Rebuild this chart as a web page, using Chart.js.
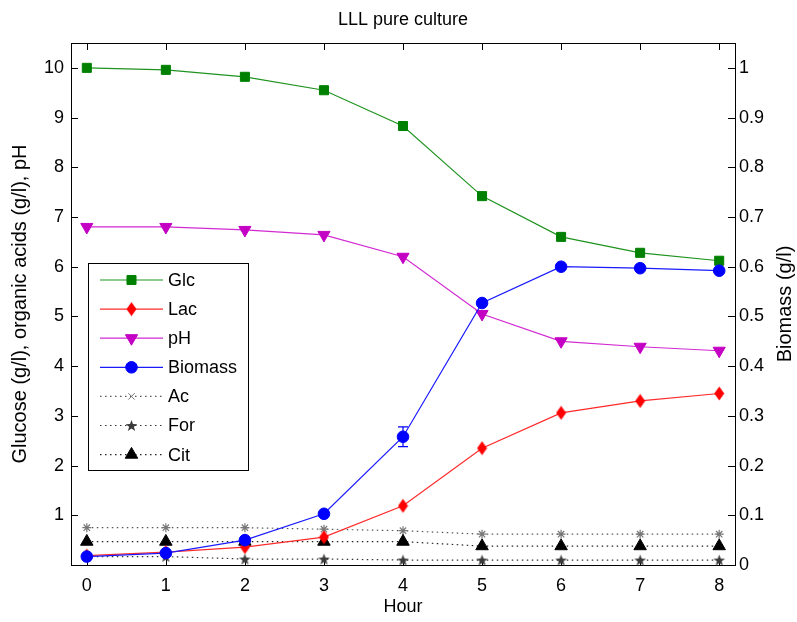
<!DOCTYPE html>
<html>
<head>
<meta charset="utf-8">
<title>LLL pure culture</title>
<script src="https://cdn.jsdelivr.net/npm/chart.js@4/dist/chart.umd.min.js"></script>
<style>
  html, body { margin: 0; padding: 0; background: #fff; }
  #c { display: block; }
</style>
</head>
<body>
<canvas id="c" width="797" height="622"></canvas>
<script>
// Sampling times (h)
const hours = [0, 1, 2, 3, 4, 5, 6, 7, 8];

// Left axis series: glucose, organic acids (g/l) and pH
const glc     = [10.0, 9.96, 9.82, 9.55, 8.83, 7.42, 6.60, 6.28, 6.12];
const lac     = [0.19, 0.26, 0.36, 0.56, 1.19, 2.35, 3.06, 3.30, 3.45];
const ph      = [6.80, 6.80, 6.74, 6.64, 6.20, 5.05, 4.50, 4.39, 4.31];
const ac      = [0.75, 0.75, 0.75, 0.72, 0.69, 0.62, 0.62, 0.62, 0.62];
const forAcid = [0.17, 0.17, 0.12, 0.12, 0.10, 0.10, 0.10, 0.10, 0.10];
const cit     = [0.47, 0.47, 0.47, 0.47, 0.47, 0.38, 0.38, 0.38, 0.38];

// Right axis series: biomass (g/l) with its standard deviation
const biomass    = [0.017, 0.024, 0.050, 0.103, 0.258, 0.527, 0.600, 0.597, 0.592];
const biomassErr = [0, 0, 0, 0, 0.020, 0, 0, 0, 0];

// Tick labels
const hourTicks  = [0, 1, 2, 3, 4, 5, 6, 7, 8];
const leftTicks  = [1, 2, 3, 4, 5, 6, 7, 8, 9, 10];
const rightTicks = [0, 0.1, 0.2, 0.3, 0.4, 0.5, 0.6, 0.7, 0.8, 0.9, 1];

const FONT = "'Liberation Sans', Arial, Helvetica, sans-serif";
const FS = 18;
const FS_AXIS = 20;

// ---- custom marker glyphs ----
function makeMarker(w, h, draw) {
  const cv = document.createElement('canvas');
  cv.width = w; cv.height = h;
  const g = cv.getContext('2d');
  draw(g, w, h);
  return cv;
}
const diamondMark = makeMarker(11, 15, (g, w, h) => {
  g.fillStyle = '#ff0000';
  g.beginPath();
  g.moveTo(w / 2, 0.5); g.lineTo(w - 0.5, h / 2); g.lineTo(w / 2, h - 0.5); g.lineTo(0.5, h / 2);
  g.closePath(); g.fill();
});
const pentagramMark = makeMarker(13, 13, (g, w, h) => {
  g.fillStyle = '#3a3a3a';
  g.beginPath();
  const cx = w / 2, cy = h / 2 + 0.6, R = 6.2, r = 2.5;
  for (let i = 0; i < 10; i++) {
    const a = -Math.PI / 2 + i * Math.PI / 5;
    const rr = i % 2 ? r : R;
    const px = cx + rr * Math.cos(a), py = cy + rr * Math.sin(a);
    i ? g.lineTo(px, py) : g.moveTo(px, py);
  }
  g.closePath(); g.fill();
});

const pts = arr => hours.map((h, i) => ({ x: h, y: arr[i] }));

const seriesStyle = [
  { label: 'Glc', data: glc, axis: 'y', line: '#1f931f', fill: '#008000', style: 'rect', radius: 6.4, rot: 0, dash: [], order: 3 },
  { label: 'Lac', data: lac, axis: 'y', line: '#ff2a2a', fill: '#ff0000', style: diamondMark, radius: 6, rot: 0, dash: [], order: 2 },
  { label: 'pH', data: ph, axis: 'y', line: '#d22ad2', fill: '#c400c4', style: 'triangle', radius: 7, rot: 180, dash: [], order: 4 },
  { label: 'Biomass', data: biomass, axis: 'y1', line: '#1a1aff', fill: '#0000ff', style: 'circle', radius: 5.8, rot: 0, dash: [], order: 0 },
  { label: 'Ac', data: ac, axis: 'y', line: '#555555', fill: '#777777', style: 'star', radius: 4.5, rot: 0, dash: [1.5, 3.5], order: 7, stroke: true },
  { label: 'For', data: forAcid, axis: 'y', line: '#333333', fill: '#3a3a3a', style: pentagramMark, radius: 6, rot: 0, dash: [1.5, 3.5], order: 6 },
  { label: 'Cit', data: cit, axis: 'y', line: '#222222', fill: '#000000', style: 'triangle', radius: 7.2, rot: 0, dash: [1.5, 3.5], order: 5 }
];

const datasets = seriesStyle.map(s => ({
  label: s.label,
  data: pts(s.data),
  yAxisID: s.axis,
  borderColor: s.line,
  borderWidth: 1.2,
  borderDash: s.dash,
  backgroundColor: s.fill,
  pointStyle: s.style,
  pointRadius: s.radius,
  pointRotation: s.rot,
  pointBackgroundColor: s.fill,
  pointBorderColor: s.fill,
  pointBorderWidth: s.stroke ? 1.2 : 1,
  tension: 0,
  clip: false,
  order: s.order
}));

// Box, inward tick marks and error bars
const framePlugin = {
  id: 'frame',
  beforeDatasetsDraw(chart) {
    const { ctx, chartArea: a, scales } = chart;
    const L = 7;
    ctx.save();
    ctx.strokeStyle = '#000';
    ctx.lineWidth = 1;
    ctx.beginPath();
    hourTicks.forEach(v => {
      const x = Math.round(scales.x.getPixelForValue(v)) + 0.5;
      ctx.moveTo(x, a.bottom); ctx.lineTo(x, a.bottom - L);
      ctx.moveTo(x, a.top); ctx.lineTo(x, a.top + L);
    });
    leftTicks.forEach(v => {
      const y = Math.round(scales.y.getPixelForValue(v)) + 0.5;
      ctx.moveTo(a.left, y); ctx.lineTo(a.left + L, y);
    });
    rightTicks.forEach(v => {
      const y = Math.round(scales.y1.getPixelForValue(v)) + 0.5;
      ctx.moveTo(a.right, y); ctx.lineTo(a.right - L, y);
    });
    ctx.stroke();
    ctx.strokeRect(Math.round(a.left) + 0.5, Math.round(a.top) + 0.5,
                   Math.round(a.right - a.left), Math.round(a.bottom - a.top));
    ctx.restore();
  },
  afterDatasetsDraw(chart) {
    const { ctx, scales } = chart;
    ctx.save();
    ctx.strokeStyle = '#0000ff';
    ctx.lineWidth = 1.2;
    ctx.beginPath();
    hours.forEach((h, i) => {
      if (!biomassErr[i]) return;
      const x = scales.x.getPixelForValue(h);
      const y0 = scales.y1.getPixelForValue(biomass[i] - biomassErr[i]);
      const y1 = scales.y1.getPixelForValue(biomass[i] + biomassErr[i]);
      ctx.moveTo(x, y0); ctx.lineTo(x, y1);
      ctx.moveTo(x - 5, y0); ctx.lineTo(x + 5, y0);
      ctx.moveTo(x - 5, y1); ctx.lineTo(x + 5, y1);
    });
    ctx.stroke();
    ctx.restore();
  }
};

// Title, axis labels and the boxed legend
const textPlugin = {
  id: 'texts',
  afterDraw(chart) {
    const { ctx, chartArea: a } = chart;
    const cx = (a.left + a.right) / 2;
    ctx.save();
    ctx.fillStyle = '#000';
    ctx.font = FS + 'px ' + FONT;
    ctx.textAlign = 'center';
    ctx.textBaseline = 'middle';
    ctx.fillText('LLL pure culture', cx, a.top - 23);
    ctx.fillText('Hour', cx, a.bottom + 42);
    const cy = (a.top + a.bottom) / 2;
    ctx.font = FS_AXIS + 'px ' + FONT;
    ctx.save();
    ctx.translate(a.left - 51, cy);
    ctx.rotate(-Math.PI / 2);
    ctx.fillText('Glucose (g/l), organic acids (g/l), pH', 0, 0);
    ctx.restore();
    ctx.save();
    ctx.translate(a.right + 50, cy);
    ctx.rotate(-Math.PI / 2);
    ctx.fillText('Biomass (g/l)', 0, 0);
    ctx.restore();
    ctx.font = FS + 'px ' + FONT;

    // legend
    const bx = a.left + 17, by = a.top + 220, bw = 160, bh = 207;
    ctx.fillStyle = '#fff';
    ctx.fillRect(bx, by, bw, bh);
    ctx.strokeStyle = '#000';
    ctx.lineWidth = 1;
    ctx.strokeRect(bx + 0.5, by + 0.5, bw, bh);
    const rowH = 29.1;
    seriesStyle.forEach((s, i) => {
      const y = by + 17 + i * rowH;
      const x0 = bx + 12, x1 = bx + 75, xm = (x0 + x1) / 2;
      ctx.save();
      ctx.strokeStyle = s.line;
      ctx.lineWidth = 1.2;
      ctx.setLineDash(s.dash);
      ctx.beginPath();
      ctx.moveTo(x0, y); ctx.lineTo(x1, y);
      ctx.stroke();
      ctx.setLineDash([]);
      ctx.fillStyle = s.fill;
      ctx.strokeStyle = s.fill;
      ctx.lineWidth = 1;
      const legendStyle = s.label === 'Ac' ? 'crossRot' : s.style;
      Chart.helpers.drawPoint(ctx, { pointStyle: legendStyle, radius: s.radius, rotation: s.rot, borderWidth: 1 }, xm, y);
      ctx.restore();
      ctx.fillStyle = '#000';
      ctx.textAlign = 'left';
      ctx.fillText(s.label, bx + 80, y + 1);
    });
    ctx.restore();
  }
};

const tickFont = { family: FONT, size: FS };

new Chart(document.getElementById('c'), {
  type: 'line',
  data: { datasets },
  options: {
    responsive: false,
    animation: false,
    devicePixelRatio: 1,
    layout: { padding: { top: 43, left: 0, right: 0, bottom: 0 } },
    plugins: { legend: { display: false }, title: { display: false }, tooltip: { enabled: false } },
    scales: {
      x: {
        type: 'linear', min: -0.2, max: 8.2,
        grid: { display: false, drawTicks: false },
        border: { display: false },
        ticks: { font: tickFont, color: '#000', padding: 10, maxRotation: 0 },
        afterBuildTicks: s => { s.ticks = hourTicks.map(v => ({ value: v })); },
        afterFit: s => { s.height = 57; }
      },
      y: {
        type: 'linear', position: 'left', min: 0, max: 10.5,
        grid: { display: false, drawTicks: false },
        border: { display: false },
        ticks: { font: tickFont, color: '#000', padding: 7 },
        afterBuildTicks: s => { s.ticks = leftTicks.map(v => ({ value: v })); },
        afterFit: s => { s.width = 71; }
      },
      y1: {
        type: 'linear', position: 'right', min: 0, max: 1.05,
        grid: { display: false, drawTicks: false },
        border: { display: false },
        ticks: { font: tickFont, color: '#000', padding: 4, callback: v => String(Math.round(v * 10) / 10) },
        afterBuildTicks: s => { s.ticks = rightTicks.map(v => ({ value: v })); },
        afterFit: s => { s.width = 62; }
      }
    }
  },
  plugins: [framePlugin, textPlugin]
});
</script>
</body>
</html>
